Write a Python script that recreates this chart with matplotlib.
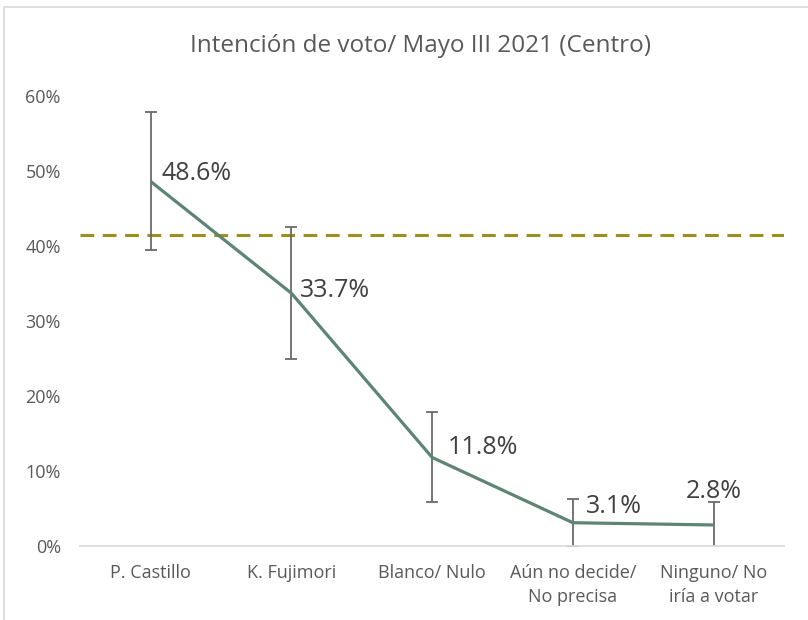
import matplotlib
matplotlib.use("Agg")
import matplotlib.pyplot as plt
from matplotlib.patches import Rectangle
from matplotlib.ticker import FuncFormatter

# data (percent)
categories = ["P. Castillo", "K. Fujimori", "Blanco/ Nulo",
              "Aún no decide/\nNo precisa", "Ninguno/ No\niría a votar"]
values = [48.6, 33.7, 11.8, 3.1, 2.8]
errors = [9.2, 8.8, 6.0, 3.2, 3.1]
reference_level = 41.5
yticks = [0, 10, 20, 30, 40, 50, 60]

# label offsets in pixels (dx, dy, ha)
label_offsets = [(11, 8, "left"), (9, 3, "left"), (16, 10, "left"),
                 (13, 16, "left"), (0, 33, "center")]

plt.rcParams["font.family"] = ["Open Sans", "DejaVu Sans"]

fig = plt.figure(figsize=(8.08, 6.2), dpi=100)
fig.patches.append(Rectangle((4 / 808, -0.1), 1.2, (620 - 7) / 620 + 0.1,
                             transform=fig.transFigure, fill=False,
                             edgecolor="#d9d9d9", linewidth=1.2))

ax = fig.add_axes([0.0994, 0.1194, 0.8709, 0.7258])
x = list(range(len(categories)))

ax.axhline(reference_level, color="#9c8f1e", linewidth=2.2,
           linestyle=(0, (4.5, 2.8)), zorder=1)
ax.errorbar(x, values, yerr=errors, fmt="none", ecolor="#6a6a6a",
            elinewidth=1.3, capsize=4, capthick=1.3, zorder=2)
ax.plot(x, values, color="#5e8474", linewidth=2.3, zorder=3,
        solid_capstyle="butt")

for xi, v, (dx, dy, ha) in zip(x, values, label_offsets):
    ax.annotate(f"{v:.1f}%", (xi, v), xytext=(dx * 0.72, dy * 0.72),
                textcoords="offset points", ha=ha, va="center",
                fontsize=18, color="#404040", zorder=4)

ax.set_xlim(-0.5, len(categories) - 0.5)
ax.set_ylim(0, 60)
ax.set_yticks(yticks)
ax.yaxis.set_major_formatter(FuncFormatter(lambda v, p: f"{v:.0f}%"))
ax.set_xticks(x)
ax.set_xticklabels(categories, fontsize=13, color="#595959",
                   linespacing=1.4)
ax.tick_params(axis="y", length=0, pad=14, labelsize=13,
               labelcolor="#595959")
ax.tick_params(axis="x", length=0, pad=13)

for side in ["left", "right", "top"]:
    ax.spines[side].set_visible(False)
ax.spines["bottom"].set_color("#d9d9d9")
ax.spines["bottom"].set_linewidth(1.2)
ax.spines["bottom"].set_zorder(5)

fig.text(0.52, 1 - 46 / 620, "Intención de voto/ Mayo III 2021 (Centro)",
         ha="center", va="center", fontsize=17.5, color="#595959")

fig.savefig("out.png", dpi=100)
plt.close(fig)
